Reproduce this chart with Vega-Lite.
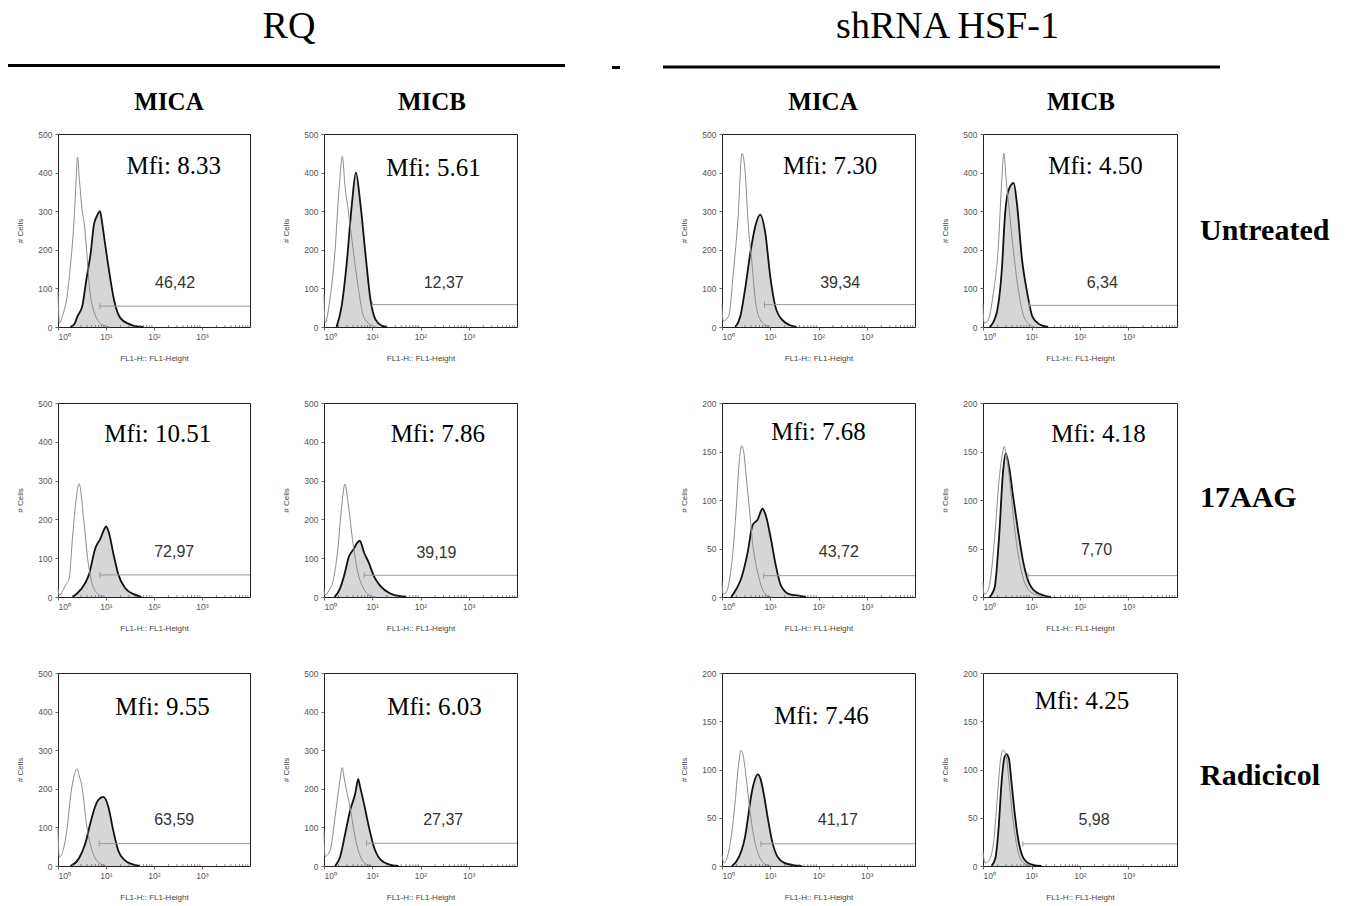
{
"$schema":"https://vega.github.io/schema/vega-lite/v6.json",
"background":"white",
"padding":{"left":6,"top":0,"right":0,"bottom":0},
"columns":9,
"spacing":{"row":76,"column":0},
"bounds":"flush",
"align":"each",
"datasets":{
"minor":[{"v":2},{"v":3},{"v":4},{"v":5},{"v":6},{"v":7},{"v":8},{"v":9},{"v":20},{"v":30},{"v":40},{"v":50},{"v":60},{"v":70},{"v":80},{"v":90},{"v":200},{"v":300},{"v":400},{"v":500},{"v":600},{"v":700},{"v":800},{"v":900},{"v":2000},{"v":3000},{"v":4000},{"v":5000},{"v":6000},{"v":7000},{"v":8000},{"v":9000}],
"hist":[
{"p":1,"s":"c","x":1,"n":90},{"p":1,"s":"c","x":1.07,"n":10},{"p":1,"s":"c","x":1.25,"n":30},{"p":1,"s":"c","x":1.58,"n":88},{"p":1,"s":"c","x":1.85,"n":170},{"p":1,"s":"c","x":2.1,"n":252},{"p":1,"s":"c","x":2.35,"n":364},{"p":1,"s":"c","x":2.55,"n":440},{"p":1,"s":"c","x":2.8,"n":380},{"p":1,"s":"c","x":3.2,"n":300},{"p":1,"s":"c","x":3.5,"n":270},{"p":1,"s":"c","x":4,"n":190},{"p":1,"s":"c","x":4.5,"n":105},{"p":1,"s":"c","x":5.2,"n":55},{"p":1,"s":"c","x":6.1,"n":28},{"p":1,"s":"c","x":7.5,"n":10},{"p":1,"s":"c","x":9,"n":4},{"p":1,"s":"c","x":12,"n":0},
{"p":1,"s":"s","x":1.8,"n":0},{"p":1,"s":"s","x":2.2,"n":8},{"p":1,"s":"s","x":2.55,"n":28},{"p":1,"s":"s","x":3.2,"n":54},{"p":1,"s":"s","x":3.9,"n":123},{"p":1,"s":"s","x":4.8,"n":192},{"p":1,"s":"s","x":5.6,"n":265},{"p":1,"s":"s","x":6.5,"n":288},{"p":1,"s":"s","x":7.5,"n":300},{"p":1,"s":"s","x":8.3,"n":270},{"p":1,"s":"s","x":9.1,"n":235},{"p":1,"s":"s","x":11.5,"n":148},{"p":1,"s":"s","x":14.7,"n":70},{"p":1,"s":"s","x":20,"n":23},{"p":1,"s":"s","x":30,"n":8},{"p":1,"s":"s","x":41,"n":2},{"p":1,"s":"s","x":60,"n":0},
{"p":2,"s":"c","x":1,"n":85},{"p":2,"s":"c","x":1.05,"n":10},{"p":2,"s":"c","x":1.32,"n":70},{"p":2,"s":"c","x":1.68,"n":192},{"p":2,"s":"c","x":2.07,"n":364},{"p":2,"s":"c","x":2.4,"n":442},{"p":2,"s":"c","x":2.73,"n":364},{"p":2,"s":"c","x":3.2,"n":300},{"p":2,"s":"c","x":4.1,"n":192},{"p":2,"s":"c","x":5.2,"n":97},{"p":2,"s":"c","x":6.6,"n":28},{"p":2,"s":"c","x":9.2,"n":6},{"p":2,"s":"c","x":12,"n":0},
{"p":2,"s":"s","x":1.82,"n":0},{"p":2,"s":"s","x":2.32,"n":54},{"p":2,"s":"s","x":2.96,"n":166},{"p":2,"s":"s","x":3.8,"n":321},{"p":2,"s":"s","x":4.58,"n":400},{"p":2,"s":"s","x":5.66,"n":321},{"p":2,"s":"s","x":7.2,"n":192},{"p":2,"s":"s","x":9.2,"n":70},{"p":2,"s":"s","x":11.7,"n":19},{"p":2,"s":"s","x":16,"n":3},{"p":2,"s":"s","x":20,"n":0},
{"p":3,"s":"c","x":1,"n":58},{"p":3,"s":"c","x":1.05,"n":15},{"p":3,"s":"c","x":1.37,"n":28},{"p":3,"s":"c","x":1.74,"n":148},{"p":3,"s":"c","x":2.14,"n":278},{"p":3,"s":"c","x":2.6,"n":450},{"p":3,"s":"c","x":2.95,"n":416},{"p":3,"s":"c","x":3.56,"n":252},{"p":3,"s":"c","x":4.17,"n":166},{"p":3,"s":"c","x":4.9,"n":70},{"p":3,"s":"c","x":6.2,"n":19},{"p":3,"s":"c","x":8.5,"n":3},{"p":3,"s":"c","x":10,"n":0},
{"p":3,"s":"s","x":1.89,"n":0},{"p":3,"s":"s","x":2.4,"n":28},{"p":3,"s":"s","x":3.0,"n":97},{"p":3,"s":"s","x":3.86,"n":192},{"p":3,"s":"s","x":4.9,"n":261},{"p":3,"s":"s","x":6.2,"n":291},{"p":3,"s":"s","x":7.9,"n":243},{"p":3,"s":"s","x":10,"n":131},{"p":3,"s":"s","x":12.7,"n":54},{"p":3,"s":"s","x":17.5,"n":19},{"p":3,"s":"s","x":28,"n":3},{"p":3,"s":"s","x":35,"n":0},
{"p":4,"s":"c","x":1,"n":60},{"p":4,"s":"c","x":1.05,"n":10},{"p":4,"s":"c","x":1.27,"n":17},{"p":4,"s":"c","x":1.63,"n":87},{"p":4,"s":"c","x":2.07,"n":208},{"p":4,"s":"c","x":2.44,"n":381},{"p":4,"s":"c","x":2.7,"n":450},{"p":4,"s":"c","x":3.0,"n":381},{"p":4,"s":"c","x":3.37,"n":320},{"p":4,"s":"c","x":4.3,"n":190},{"p":4,"s":"c","x":5.5,"n":87},{"p":4,"s":"c","x":7,"n":26},{"p":4,"s":"c","x":9.7,"n":4},{"p":4,"s":"c","x":12,"n":0},
{"p":4,"s":"s","x":1.38,"n":0},{"p":4,"s":"s","x":1.9,"n":35},{"p":4,"s":"s","x":2.44,"n":147},{"p":4,"s":"s","x":2.86,"n":295},{"p":4,"s":"s","x":3.37,"n":355},{"p":4,"s":"s","x":4.3,"n":373},{"p":4,"s":"s","x":5.0,"n":320},{"p":4,"s":"s","x":6.4,"n":173},{"p":4,"s":"s","x":8.2,"n":87},{"p":4,"s":"s","x":10.5,"n":26},{"p":4,"s":"s","x":14.5,"n":7},{"p":4,"s":"s","x":22,"n":0},
{"p":5,"s":"c","x":1,"n":22},{"p":5,"s":"c","x":1.05,"n":5},{"p":5,"s":"c","x":1.46,"n":32},{"p":5,"s":"c","x":1.71,"n":49},{"p":5,"s":"c","x":2.0,"n":150},{"p":5,"s":"c","x":2.34,"n":243},{"p":5,"s":"c","x":2.75,"n":292},{"p":5,"s":"c","x":3.47,"n":194},{"p":5,"s":"c","x":4.06,"n":109},{"p":5,"s":"c","x":5.2,"n":32},{"p":5,"s":"c","x":7.1,"n":6},{"p":5,"s":"c","x":9,"n":0},
{"p":5,"s":"s","x":2,"n":0},{"p":5,"s":"s","x":2.97,"n":19},{"p":5,"s":"s","x":4.4,"n":57},{"p":5,"s":"s","x":6.0,"n":126},{"p":5,"s":"s","x":7.6,"n":150},{"p":5,"s":"s","x":9.4,"n":177},{"p":5,"s":"s","x":10,"n":182},{"p":5,"s":"s","x":11.3,"n":169},{"p":5,"s":"s","x":14.4,"n":109},{"p":5,"s":"s","x":18.2,"n":57},{"p":5,"s":"s","x":25,"n":23},{"p":5,"s":"s","x":40,"n":6},{"p":5,"s":"s","x":55,"n":0},
{"p":6,"s":"c","x":1,"n":20},{"p":6,"s":"c","x":1.05,"n":5},{"p":6,"s":"c","x":1.3,"n":19},{"p":6,"s":"c","x":1.5,"n":36},{"p":6,"s":"c","x":1.93,"n":122},{"p":6,"s":"c","x":2.33,"n":235},{"p":6,"s":"c","x":2.72,"n":291},{"p":6,"s":"c","x":3.09,"n":252},{"p":6,"s":"c","x":3.9,"n":148},{"p":6,"s":"c","x":4.9,"n":70},{"p":6,"s":"c","x":6.8,"n":19},{"p":6,"s":"c","x":9.3,"n":3},{"p":6,"s":"c","x":12,"n":0},
{"p":6,"s":"s","x":1.65,"n":0},{"p":6,"s":"s","x":2.1,"n":19},{"p":6,"s":"s","x":2.6,"n":54},{"p":6,"s":"s","x":3.3,"n":105},{"p":6,"s":"s","x":4.1,"n":123},{"p":6,"s":"s","x":4.9,"n":140},{"p":6,"s":"s","x":5.5,"n":145},{"p":6,"s":"s","x":6.8,"n":114},{"p":6,"s":"s","x":8.5,"n":88},{"p":6,"s":"s","x":10.8,"n":54},{"p":6,"s":"s","x":14.8,"n":28},{"p":6,"s":"s","x":23.6,"n":9},{"p":6,"s":"s","x":38,"n":2},{"p":6,"s":"s","x":50,"n":0},
{"p":7,"s":"c","x":1,"n":15},{"p":7,"s":"c","x":1.05,"n":3},{"p":7,"s":"c","x":1.23,"n":5},{"p":7,"s":"c","x":1.44,"n":19},{"p":7,"s":"c","x":1.68,"n":46},{"p":7,"s":"c","x":1.97,"n":91},{"p":7,"s":"c","x":2.3,"n":142},{"p":7,"s":"c","x":2.57,"n":156},{"p":7,"s":"c","x":2.83,"n":149},{"p":7,"s":"c","x":3.16,"n":125},{"p":7,"s":"c","x":3.7,"n":91},{"p":7,"s":"c","x":4.3,"n":56},{"p":7,"s":"c","x":5.5,"n":25},{"p":7,"s":"c","x":6.9,"n":8},{"p":7,"s":"c","x":8.8,"n":1},{"p":7,"s":"c","x":11,"n":0},
{"p":7,"s":"s","x":1.55,"n":0},{"p":7,"s":"s","x":1.97,"n":8},{"p":7,"s":"s","x":2.5,"n":19},{"p":7,"s":"s","x":3.4,"n":46},{"p":7,"s":"s","x":4.3,"n":74},{"p":7,"s":"s","x":5.5,"n":80},{"p":7,"s":"s","x":6.9,"n":91},{"p":7,"s":"s","x":8.1,"n":84},{"p":7,"s":"s","x":10.3,"n":60},{"p":7,"s":"s","x":13.1,"n":32},{"p":7,"s":"s","x":16.6,"n":12},{"p":7,"s":"s","x":24.6,"n":3},{"p":7,"s":"s","x":43,"n":1},{"p":7,"s":"s","x":55,"n":0},
{"p":8,"s":"c","x":1,"n":15},{"p":8,"s":"c","x":1.05,"n":3},{"p":8,"s":"c","x":1.17,"n":4},{"p":8,"s":"c","x":1.37,"n":13},{"p":8,"s":"c","x":1.74,"n":61},{"p":8,"s":"c","x":2.14,"n":120},{"p":8,"s":"c","x":2.6,"n":151},{"p":8,"s":"c","x":2.75,"n":155},{"p":8,"s":"c","x":2.94,"n":150},{"p":8,"s":"c","x":3.56,"n":120},{"p":8,"s":"c","x":4.3,"n":79},{"p":8,"s":"c","x":5.3,"n":44},{"p":8,"s":"c","x":6.7,"n":20},{"p":8,"s":"c","x":9.2,"n":6},{"p":8,"s":"c","x":15,"n":1},{"p":8,"s":"c","x":18,"n":0},
{"p":8,"s":"s","x":1.37,"n":0},{"p":8,"s":"s","x":1.74,"n":10},{"p":8,"s":"s","x":2.14,"n":61},{"p":8,"s":"s","x":2.6,"n":130},{"p":8,"s":"s","x":2.94,"n":148},{"p":8,"s":"s","x":3.45,"n":134},{"p":8,"s":"s","x":4.2,"n":103},{"p":8,"s":"s","x":5.3,"n":68},{"p":8,"s":"s","x":6.7,"n":37},{"p":8,"s":"s","x":8.5,"n":17},{"p":8,"s":"s","x":11.7,"n":6},{"p":8,"s":"s","x":20,"n":1},{"p":8,"s":"s","x":25,"n":0},
{"p":9,"s":"c","x":1,"n":99},{"p":9,"s":"c","x":1.06,"n":23},{"p":9,"s":"c","x":1.33,"n":49},{"p":9,"s":"c","x":1.56,"n":101},{"p":9,"s":"c","x":1.82,"n":179},{"p":9,"s":"c","x":2.13,"n":230},{"p":9,"s":"c","x":2.5,"n":252},{"p":9,"s":"c","x":2.75,"n":235},{"p":9,"s":"c","x":3.16,"n":205},{"p":9,"s":"c","x":4.0,"n":101},{"p":9,"s":"c","x":5.1,"n":41},{"p":9,"s":"c","x":6.9,"n":10},{"p":9,"s":"c","x":10,"n":0},
{"p":9,"s":"s","x":1.82,"n":0},{"p":9,"s":"s","x":2.7,"n":19},{"p":9,"s":"s","x":3.7,"n":58},{"p":9,"s":"s","x":4.7,"n":110},{"p":9,"s":"s","x":5.9,"n":153},{"p":9,"s":"s","x":6.9,"n":171},{"p":9,"s":"s","x":8.8,"n":179},{"p":9,"s":"s","x":11.2,"n":153},{"p":9,"s":"s","x":14.1,"n":93},{"p":9,"s":"s","x":17.9,"n":41},{"p":9,"s":"s","x":24.5,"n":15},{"p":9,"s":"s","x":36,"n":4},{"p":9,"s":"s","x":50,"n":0},
{"p":10,"s":"c","x":1,"n":90},{"p":10,"s":"c","x":1.05,"n":25},{"p":10,"s":"c","x":1.34,"n":41},{"p":10,"s":"c","x":1.7,"n":128},{"p":10,"s":"c","x":2.1,"n":215},{"p":10,"s":"c","x":2.4,"n":255},{"p":10,"s":"c","x":2.6,"n":230},{"p":10,"s":"c","x":3.0,"n":190},{"p":10,"s":"c","x":3.5,"n":150},{"p":10,"s":"c","x":4.2,"n":90},{"p":10,"s":"c","x":5,"n":45},{"p":10,"s":"c","x":6.2,"n":15},{"p":10,"s":"c","x":8,"n":3},{"p":10,"s":"c","x":10,"n":0},
{"p":10,"s":"s","x":1.7,"n":0},{"p":10,"s":"s","x":2.16,"n":24},{"p":10,"s":"s","x":2.76,"n":85},{"p":10,"s":"s","x":3.5,"n":145},{"p":10,"s":"s","x":4.47,"n":189},{"p":10,"s":"s","x":5.1,"n":225},{"p":10,"s":"s","x":5.6,"n":205},{"p":10,"s":"s","x":6.7,"n":163},{"p":10,"s":"s","x":8.5,"n":102},{"p":10,"s":"s","x":10.8,"n":50},{"p":10,"s":"s","x":15,"n":16},{"p":10,"s":"s","x":24,"n":3},{"p":10,"s":"s","x":35,"n":0},
{"p":11,"s":"c","x":1,"n":12},{"p":11,"s":"c","x":1.1,"n":3},{"p":11,"s":"c","x":1.3,"n":10},{"p":11,"s":"c","x":1.6,"n":35},{"p":11,"s":"c","x":1.9,"n":70},{"p":11,"s":"c","x":2.2,"n":105},{"p":11,"s":"c","x":2.5,"n":120},{"p":11,"s":"c","x":2.8,"n":112},{"p":11,"s":"c","x":3.2,"n":90},{"p":11,"s":"c","x":3.7,"n":62},{"p":11,"s":"c","x":4.3,"n":38},{"p":11,"s":"c","x":5.2,"n":18},{"p":11,"s":"c","x":6.5,"n":6},{"p":11,"s":"c","x":8.5,"n":1},{"p":11,"s":"c","x":11,"n":0},
{"p":11,"s":"s","x":1.6,"n":0},{"p":11,"s":"s","x":2,"n":5},{"p":11,"s":"s","x":2.5,"n":15},{"p":11,"s":"s","x":3,"n":30},{"p":11,"s":"s","x":3.5,"n":52},{"p":11,"s":"s","x":4,"n":72},{"p":11,"s":"s","x":4.7,"n":88},{"p":11,"s":"s","x":5.5,"n":95},{"p":11,"s":"s","x":6.3,"n":90},{"p":11,"s":"s","x":7.5,"n":72},{"p":11,"s":"s","x":9,"n":48},{"p":11,"s":"s","x":11,"n":25},{"p":11,"s":"s","x":14,"n":10},{"p":11,"s":"s","x":20,"n":3},{"p":11,"s":"s","x":30,"n":1},{"p":11,"s":"s","x":45,"n":0},
{"p":12,"s":"c","x":1,"n":15},{"p":12,"s":"c","x":1.1,"n":3},{"p":12,"s":"c","x":1.4,"n":8},{"p":12,"s":"c","x":1.7,"n":30},{"p":12,"s":"c","x":2.0,"n":75},{"p":12,"s":"c","x":2.3,"n":110},{"p":12,"s":"c","x":2.6,"n":120},{"p":12,"s":"c","x":3.0,"n":115},{"p":12,"s":"c","x":3.4,"n":90},{"p":12,"s":"c","x":4.0,"n":55},{"p":12,"s":"c","x":4.8,"n":25},{"p":12,"s":"c","x":5.8,"n":8},{"p":12,"s":"c","x":7.5,"n":2},{"p":12,"s":"c","x":10,"n":0},
{"p":12,"s":"s","x":1.5,"n":0},{"p":12,"s":"s","x":1.8,"n":8},{"p":12,"s":"s","x":2.1,"n":40},{"p":12,"s":"s","x":2.4,"n":85},{"p":12,"s":"s","x":2.7,"n":110},{"p":12,"s":"s","x":3.0,"n":116},{"p":12,"s":"s","x":3.4,"n":112},{"p":12,"s":"s","x":3.9,"n":85},{"p":12,"s":"s","x":4.5,"n":55},{"p":12,"s":"s","x":5.3,"n":28},{"p":12,"s":"s","x":6.3,"n":12},{"p":12,"s":"s","x":8,"n":4},{"p":12,"s":"s","x":11,"n":1},{"p":12,"s":"s","x":16,"n":0}
],
"ann":[
{"p":1,"mfi":"Mfi: 8.33","pct":"46,42","gx":7.5,"gy":54},
{"p":2,"mfi":"Mfi: 5.61","pct":"12,37","gx":10,"gy":58},
{"p":3,"mfi":"Mfi: 7.30","pct":"39,34","gx":7.6,"gy":58},
{"p":4,"mfi":"Mfi: 4.50","pct":"6,34","gx":8.9,"gy":56},
{"p":5,"mfi":"Mfi: 10.51","pct":"72,97","gx":7.4,"gy":57},
{"p":6,"mfi":"Mfi: 7.86","pct":"39,19","gx":6.8,"gy":56},
{"p":7,"mfi":"Mfi: 7.68","pct":"43,72","gx":7.3,"gy":22},
{"p":8,"mfi":"Mfi: 4.18","pct":"7,70","gx":8.5,"gy":22},
{"p":9,"mfi":"Mfi: 9.55","pct":"63,59","gx":7.2,"gy":58},
{"p":10,"mfi":"Mfi: 6.03","pct":"27,37","gx":7.6,"gy":59},
{"p":11,"mfi":"Mfi: 7.46","pct":"41,17","gx":6.4,"gy":23},
{"p":12,"mfi":"Mfi: 4.25","pct":"5,98","gx":6.6,"gy":23}
]
},
"concat":[
{"width":192,"height":58,"view":{"stroke":null},"data":{"values":[{}]},"layer":[
 {"mark":{"type":"text","text":"RQ","font":"Liberation Serif","fontSize":38,"baseline":"alphabetic","align":"center"},"encoding":{"x":{"datum":289,"type":"quantitative","scale":{"domain":[58,250],"nice":false,"zero":false},"axis":null},"y":{"datum":38,"type":"quantitative","scale":{"domain":[58,0],"nice":false,"zero":false},"axis":null}}},
 {"mark":{"type":"rule","color":"black","strokeWidth":3},"encoding":{"x":{"datum":8,"type":"quantitative","axis":null},"x2":{"datum":565},"y":{"datum":65.5,"type":"quantitative","axis":null}}},
 {"mark":{"type":"text","text":"MICA","font":"Liberation Serif","fontWeight":"bold","fontSize":25,"baseline":"alphabetic","align":"center"},"encoding":{"x":{"datum":169,"type":"quantitative","axis":null},"y":{"datum":110,"type":"quantitative","axis":null}}}
]},
{"width":74,"height":58,"view":{"stroke":null},"data":{"values":[]},"mark":"point","encoding":{}},
{"width":193,"height":58,"view":{"stroke":null},"data":{"values":[{}]},"mark":{"type":"text","text":"MICB","font":"Liberation Serif","fontWeight":"bold","fontSize":25,"baseline":"alphabetic","align":"center"},"encoding":{"x":{"datum":432,"type":"quantitative","scale":{"domain":[324,517],"nice":false,"zero":false},"axis":null},"y":{"datum":110,"type":"quantitative","scale":{"domain":[58,0],"nice":false,"zero":false},"axis":null}}},
{"width":205,"height":58,"view":{"stroke":null},"data":{"values":[{}]},"mark":{"type":"rule","color":"black","strokeWidth":3},"encoding":{"x":{"datum":612,"type":"quantitative","scale":{"domain":[517,722],"nice":false,"zero":false},"axis":null},"x2":{"datum":620},"y":{"datum":67.5,"type":"quantitative","scale":{"domain":[58,0],"nice":false,"zero":false},"axis":null}}},
{"width":193,"height":58,"view":{"stroke":null},"data":{"values":[{}]},"layer":[
 {"mark":{"type":"text","text":"shRNA HSF-1","font":"Liberation Serif","fontSize":38,"baseline":"alphabetic","align":"center"},"encoding":{"x":{"datum":947.5,"type":"quantitative","scale":{"domain":[722,915],"nice":false,"zero":false},"axis":null},"y":{"datum":38,"type":"quantitative","scale":{"domain":[58,0],"nice":false,"zero":false},"axis":null}}},
 {"mark":{"type":"rule","color":"black","strokeWidth":3},"encoding":{"x":{"datum":663,"type":"quantitative","axis":null},"x2":{"datum":1220},"y":{"datum":67,"type":"quantitative","axis":null}}},
 {"mark":{"type":"text","text":"MICA","font":"Liberation Serif","fontWeight":"bold","fontSize":25,"baseline":"alphabetic","align":"center"},"encoding":{"x":{"datum":823,"type":"quantitative","axis":null},"y":{"datum":110,"type":"quantitative","axis":null}}}
]},
{"width":68,"height":58,"view":{"stroke":null},"data":{"values":[]},"mark":"point","encoding":{}},
{"width":194,"height":58,"view":{"stroke":null},"data":{"values":[{}]},"mark":{"type":"text","text":"MICB","font":"Liberation Serif","fontWeight":"bold","fontSize":25,"baseline":"alphabetic","align":"center"},"encoding":{"x":{"datum":1081,"type":"quantitative","scale":{"domain":[983,1177],"nice":false,"zero":false},"axis":null},"y":{"datum":110,"type":"quantitative","scale":{"domain":[58,0],"nice":false,"zero":false},"axis":null}}},
{"width":23,"height":58,"view":{"stroke":null},"data":{"values":[]},"mark":"point","encoding":{}},
{"width":145,"height":58,"view":{"stroke":null},"data":{"values":[]},"mark":"point","encoding":{}},

{"width":192,"height":193,"data":{"name":"hist"},"transform":[{"filter":"datum.p==1"}],"layer":[
 {"transform":[{"filter":"datum.s=='s'"}],"mark":{"type":"area","color":"#c4c4c4","interpolate":"monotone","line":{"color":"#111","strokeWidth":1.8}},"encoding":{"x":{"field":"x","type":"quantitative","scale":{"type":"log","domain":[1,10000]},"axis":{"values":[1,10,100,1000],"labelExpr":"datum.value == 1 ? '10⁰' : datum.value == 10 ? '10¹' : datum.value == 100 ? '10²' : '10³'","title":"FL1-H:: FL1-Height"}},"y":{"field":"n","type":"quantitative","scale":{"domain":[0,500]},"axis":{"values":[0,100,200,300,400,500],"labelOverlap":false,"tickCount":6,"title":"# Cells"}}}},
 {"transform":[{"filter":"datum.s=='c'"}],"mark":{"type":"line","color":"#8c8c8c","strokeWidth":1,"interpolate":"monotone"},"encoding":{"x":{"field":"x","type":"quantitative"},"y":{"field":"n","type":"quantitative"}}},
 {"data":{"name":"minor"},"mark":{"type":"point","shape":"M0,0L0,-1","size":14,"stroke":"#666","strokeWidth":0.8,"filled":false,"opacity":1},"encoding":{"x":{"field":"v","type":"quantitative"},"y":{"datum":0}}},
 {"data":{"name":"ann"},"transform":[{"filter":"datum.p==1"}],"mark":{"type":"rule","color":"#999","strokeWidth":1},"encoding":{"x":{"field":"gx","type":"quantitative"},"x2":{"datum":10000},"y":{"field":"gy","type":"quantitative"}}},
 {"data":{"name":"ann"},"transform":[{"filter":"datum.p==1"}],"mark":{"type":"point","shape":"M0,-1L0,1","size":36,"stroke":"#999","strokeWidth":1,"filled":false,"opacity":1},"encoding":{"x":{"field":"gx","type":"quantitative"},"y":{"field":"gy","type":"quantitative"}}},
 {"data":{"name":"ann"},"transform":[{"filter":"datum.p==1"}],"mark":{"type":"text","font":"Liberation Serif","fontSize":25,"color":"black"},"encoding":{"text":{"field":"mfi"},"x":{"datum":257},"y":{"datum":416}}},
 {"data":{"name":"ann"},"transform":[{"filter":"datum.p==1"}],"mark":{"type":"text","font":"Liberation Sans","fontSize":16,"color":"#333"},"encoding":{"text":{"field":"pct"},"x":{"datum":275},"y":{"datum":114}}}
]},
{"width":74,"height":20,"view":{"stroke":null},"data":{"values":[]},"mark":"point","encoding":{}},
{"width":193,"height":193,"data":{"name":"hist"},"transform":[{"filter":"datum.p==2"}],"layer":[
 {"transform":[{"filter":"datum.s=='s'"}],"mark":{"type":"area","color":"#c4c4c4","interpolate":"monotone","line":{"color":"#111","strokeWidth":1.8}},"encoding":{"x":{"field":"x","type":"quantitative","scale":{"type":"log","domain":[1,10000]},"axis":{"values":[1,10,100,1000],"labelExpr":"datum.value == 1 ? '10⁰' : datum.value == 10 ? '10¹' : datum.value == 100 ? '10²' : '10³'","title":"FL1-H:: FL1-Height"}},"y":{"field":"n","type":"quantitative","scale":{"domain":[0,500]},"axis":{"values":[0,100,200,300,400,500],"labelOverlap":false,"tickCount":6,"title":"# Cells"}}}},
 {"transform":[{"filter":"datum.s=='c'"}],"mark":{"type":"line","color":"#8c8c8c","strokeWidth":1,"interpolate":"monotone"},"encoding":{"x":{"field":"x","type":"quantitative"},"y":{"field":"n","type":"quantitative"}}},
 {"data":{"name":"minor"},"mark":{"type":"point","shape":"M0,0L0,-1","size":14,"stroke":"#666","strokeWidth":0.8,"filled":false,"opacity":1},"encoding":{"x":{"field":"v","type":"quantitative"},"y":{"datum":0}}},
 {"data":{"name":"ann"},"transform":[{"filter":"datum.p==2"}],"mark":{"type":"rule","color":"#999","strokeWidth":1},"encoding":{"x":{"field":"gx","type":"quantitative"},"x2":{"datum":10000},"y":{"field":"gy","type":"quantitative"}}},
 {"data":{"name":"ann"},"transform":[{"filter":"datum.p==2"}],"mark":{"type":"point","shape":"M0,-1L0,1","size":36,"stroke":"#999","strokeWidth":1,"filled":false,"opacity":1},"encoding":{"x":{"field":"gx","type":"quantitative"},"y":{"field":"gy","type":"quantitative"}}},
 {"data":{"name":"ann"},"transform":[{"filter":"datum.p==2"}],"mark":{"type":"text","font":"Liberation Serif","fontSize":25,"color":"black"},"encoding":{"text":{"field":"mfi"},"x":{"datum":186},"y":{"datum":412}}},
 {"data":{"name":"ann"},"transform":[{"filter":"datum.p==2"}],"mark":{"type":"text","font":"Liberation Sans","fontSize":16,"color":"#333"},"encoding":{"text":{"field":"pct"},"x":{"datum":302},"y":{"datum":113}}}
]},
{"width":205,"height":20,"view":{"stroke":null},"data":{"values":[]},"mark":"point","encoding":{}},
{"width":193,"height":193,"data":{"name":"hist"},"transform":[{"filter":"datum.p==3"}],"layer":[
 {"transform":[{"filter":"datum.s=='s'"}],"mark":{"type":"area","color":"#c4c4c4","interpolate":"monotone","line":{"color":"#111","strokeWidth":1.8}},"encoding":{"x":{"field":"x","type":"quantitative","scale":{"type":"log","domain":[1,10000]},"axis":{"values":[1,10,100,1000],"labelExpr":"datum.value == 1 ? '10⁰' : datum.value == 10 ? '10¹' : datum.value == 100 ? '10²' : '10³'","title":"FL1-H:: FL1-Height"}},"y":{"field":"n","type":"quantitative","scale":{"domain":[0,500]},"axis":{"values":[0,100,200,300,400,500],"labelOverlap":false,"tickCount":6,"title":"# Cells"}}}},
 {"transform":[{"filter":"datum.s=='c'"}],"mark":{"type":"line","color":"#8c8c8c","strokeWidth":1,"interpolate":"monotone"},"encoding":{"x":{"field":"x","type":"quantitative"},"y":{"field":"n","type":"quantitative"}}},
 {"data":{"name":"minor"},"mark":{"type":"point","shape":"M0,0L0,-1","size":14,"stroke":"#666","strokeWidth":0.8,"filled":false,"opacity":1},"encoding":{"x":{"field":"v","type":"quantitative"},"y":{"datum":0}}},
 {"data":{"name":"ann"},"transform":[{"filter":"datum.p==3"}],"mark":{"type":"rule","color":"#999","strokeWidth":1},"encoding":{"x":{"field":"gx","type":"quantitative"},"x2":{"datum":10000},"y":{"field":"gy","type":"quantitative"}}},
 {"data":{"name":"ann"},"transform":[{"filter":"datum.p==3"}],"mark":{"type":"point","shape":"M0,-1L0,1","size":36,"stroke":"#999","strokeWidth":1,"filled":false,"opacity":1},"encoding":{"x":{"field":"gx","type":"quantitative"},"y":{"field":"gy","type":"quantitative"}}},
 {"data":{"name":"ann"},"transform":[{"filter":"datum.p==3"}],"mark":{"type":"text","font":"Liberation Serif","fontSize":25,"color":"black"},"encoding":{"text":{"field":"mfi"},"x":{"datum":174},"y":{"datum":416}}},
 {"data":{"name":"ann"},"transform":[{"filter":"datum.p==3"}],"mark":{"type":"text","font":"Liberation Sans","fontSize":16,"color":"#333"},"encoding":{"text":{"field":"pct"},"x":{"datum":282},"y":{"datum":114}}}
]},
{"width":68,"height":20,"view":{"stroke":null},"data":{"values":[]},"mark":"point","encoding":{}},
{"width":194,"height":193,"data":{"name":"hist"},"transform":[{"filter":"datum.p==4"}],"layer":[
 {"transform":[{"filter":"datum.s=='s'"}],"mark":{"type":"area","color":"#c4c4c4","interpolate":"monotone","line":{"color":"#111","strokeWidth":1.8}},"encoding":{"x":{"field":"x","type":"quantitative","scale":{"type":"log","domain":[1,10000]},"axis":{"values":[1,10,100,1000],"labelExpr":"datum.value == 1 ? '10⁰' : datum.value == 10 ? '10¹' : datum.value == 100 ? '10²' : '10³'","title":"FL1-H:: FL1-Height"}},"y":{"field":"n","type":"quantitative","scale":{"domain":[0,500]},"axis":{"values":[0,100,200,300,400,500],"labelOverlap":false,"tickCount":6,"title":"# Cells"}}}},
 {"transform":[{"filter":"datum.s=='c'"}],"mark":{"type":"line","color":"#8c8c8c","strokeWidth":1,"interpolate":"monotone"},"encoding":{"x":{"field":"x","type":"quantitative"},"y":{"field":"n","type":"quantitative"}}},
 {"data":{"name":"minor"},"mark":{"type":"point","shape":"M0,0L0,-1","size":14,"stroke":"#666","strokeWidth":0.8,"filled":false,"opacity":1},"encoding":{"x":{"field":"v","type":"quantitative"},"y":{"datum":0}}},
 {"data":{"name":"ann"},"transform":[{"filter":"datum.p==4"}],"mark":{"type":"rule","color":"#999","strokeWidth":1},"encoding":{"x":{"field":"gx","type":"quantitative"},"x2":{"datum":10000},"y":{"field":"gy","type":"quantitative"}}},
 {"data":{"name":"ann"},"transform":[{"filter":"datum.p==4"}],"mark":{"type":"point","shape":"M0,-1L0,1","size":36,"stroke":"#999","strokeWidth":1,"filled":false,"opacity":1},"encoding":{"x":{"field":"gx","type":"quantitative"},"y":{"field":"gy","type":"quantitative"}}},
 {"data":{"name":"ann"},"transform":[{"filter":"datum.p==4"}],"mark":{"type":"text","font":"Liberation Serif","fontSize":25,"color":"black"},"encoding":{"text":{"field":"mfi"},"x":{"datum":209},"y":{"datum":416}}},
 {"data":{"name":"ann"},"transform":[{"filter":"datum.p==4"}],"mark":{"type":"text","font":"Liberation Sans","fontSize":16,"color":"#333"},"encoding":{"text":{"field":"pct"},"x":{"datum":288},"y":{"datum":113}}}
]},
{"width":23,"height":20,"view":{"stroke":null},"data":{"values":[]},"mark":"point","encoding":{}},
{"width":145,"height":193,"view":{"stroke":null},"data":{"values":[{}]},"mark":{"type":"text","text":"Untreated","font":"Liberation Serif","fontWeight":"bold","fontSize":30,"align":"left","baseline":"alphabetic"},"encoding":{"x":{"datum":1200,"type":"quantitative","scale":{"domain":[1200,1345],"nice":false,"zero":false},"axis":null},"y":{"datum":240,"type":"quantitative","scale":{"domain":[327,134],"nice":false,"zero":false},"axis":null}}},

{"width":192,"height":194,"data":{"name":"hist"},"transform":[{"filter":"datum.p==5"}],"layer":[
 {"transform":[{"filter":"datum.s=='s'"}],"mark":{"type":"area","color":"#c4c4c4","interpolate":"monotone","line":{"color":"#111","strokeWidth":1.8}},"encoding":{"x":{"field":"x","type":"quantitative","scale":{"type":"log","domain":[1,10000]},"axis":{"values":[1,10,100,1000],"labelExpr":"datum.value == 1 ? '10⁰' : datum.value == 10 ? '10¹' : datum.value == 100 ? '10²' : '10³'","title":"FL1-H:: FL1-Height"}},"y":{"field":"n","type":"quantitative","scale":{"domain":[0,500]},"axis":{"values":[0,100,200,300,400,500],"labelOverlap":false,"tickCount":6,"title":"# Cells"}}}},
 {"transform":[{"filter":"datum.s=='c'"}],"mark":{"type":"line","color":"#8c8c8c","strokeWidth":1,"interpolate":"monotone"},"encoding":{"x":{"field":"x","type":"quantitative"},"y":{"field":"n","type":"quantitative"}}},
 {"data":{"name":"minor"},"mark":{"type":"point","shape":"M0,0L0,-1","size":14,"stroke":"#666","strokeWidth":0.8,"filled":false,"opacity":1},"encoding":{"x":{"field":"v","type":"quantitative"},"y":{"datum":0}}},
 {"data":{"name":"ann"},"transform":[{"filter":"datum.p==5"}],"mark":{"type":"rule","color":"#999","strokeWidth":1},"encoding":{"x":{"field":"gx","type":"quantitative"},"x2":{"datum":10000},"y":{"field":"gy","type":"quantitative"}}},
 {"data":{"name":"ann"},"transform":[{"filter":"datum.p==5"}],"mark":{"type":"point","shape":"M0,-1L0,1","size":36,"stroke":"#999","strokeWidth":1,"filled":false,"opacity":1},"encoding":{"x":{"field":"gx","type":"quantitative"},"y":{"field":"gy","type":"quantitative"}}},
 {"data":{"name":"ann"},"transform":[{"filter":"datum.p==5"}],"mark":{"type":"text","font":"Liberation Serif","fontSize":25,"color":"black"},"encoding":{"text":{"field":"mfi"},"x":{"datum":120},"y":{"datum":421}}},
 {"data":{"name":"ann"},"transform":[{"filter":"datum.p==5"}],"mark":{"type":"text","font":"Liberation Sans","fontSize":16,"color":"#333"},"encoding":{"text":{"field":"pct"},"x":{"datum":263},"y":{"datum":117}}}
]},
{"width":74,"height":20,"view":{"stroke":null},"data":{"values":[]},"mark":"point","encoding":{}},
{"width":193,"height":194,"data":{"name":"hist"},"transform":[{"filter":"datum.p==6"}],"layer":[
 {"transform":[{"filter":"datum.s=='s'"}],"mark":{"type":"area","color":"#c4c4c4","interpolate":"monotone","line":{"color":"#111","strokeWidth":1.8}},"encoding":{"x":{"field":"x","type":"quantitative","scale":{"type":"log","domain":[1,10000]},"axis":{"values":[1,10,100,1000],"labelExpr":"datum.value == 1 ? '10⁰' : datum.value == 10 ? '10¹' : datum.value == 100 ? '10²' : '10³'","title":"FL1-H:: FL1-Height"}},"y":{"field":"n","type":"quantitative","scale":{"domain":[0,500]},"axis":{"values":[0,100,200,300,400,500],"labelOverlap":false,"tickCount":6,"title":"# Cells"}}}},
 {"transform":[{"filter":"datum.s=='c'"}],"mark":{"type":"line","color":"#8c8c8c","strokeWidth":1,"interpolate":"monotone"},"encoding":{"x":{"field":"x","type":"quantitative"},"y":{"field":"n","type":"quantitative"}}},
 {"data":{"name":"minor"},"mark":{"type":"point","shape":"M0,0L0,-1","size":14,"stroke":"#666","strokeWidth":0.8,"filled":false,"opacity":1},"encoding":{"x":{"field":"v","type":"quantitative"},"y":{"datum":0}}},
 {"data":{"name":"ann"},"transform":[{"filter":"datum.p==6"}],"mark":{"type":"rule","color":"#999","strokeWidth":1},"encoding":{"x":{"field":"gx","type":"quantitative"},"x2":{"datum":10000},"y":{"field":"gy","type":"quantitative"}}},
 {"data":{"name":"ann"},"transform":[{"filter":"datum.p==6"}],"mark":{"type":"point","shape":"M0,-1L0,1","size":36,"stroke":"#999","strokeWidth":1,"filled":false,"opacity":1},"encoding":{"x":{"field":"gx","type":"quantitative"},"y":{"field":"gy","type":"quantitative"}}},
 {"data":{"name":"ann"},"transform":[{"filter":"datum.p==6"}],"mark":{"type":"text","font":"Liberation Serif","fontSize":25,"color":"black"},"encoding":{"text":{"field":"mfi"},"x":{"datum":229},"y":{"datum":421}}},
 {"data":{"name":"ann"},"transform":[{"filter":"datum.p==6"}],"mark":{"type":"text","font":"Liberation Sans","fontSize":16,"color":"#333"},"encoding":{"text":{"field":"pct"},"x":{"datum":214},"y":{"datum":114}}}
]},
{"width":205,"height":20,"view":{"stroke":null},"data":{"values":[]},"mark":"point","encoding":{}},
{"width":193,"height":194,"data":{"name":"hist"},"transform":[{"filter":"datum.p==7"}],"layer":[
 {"transform":[{"filter":"datum.s=='s'"}],"mark":{"type":"area","color":"#c4c4c4","interpolate":"monotone","line":{"color":"#111","strokeWidth":1.8}},"encoding":{"x":{"field":"x","type":"quantitative","scale":{"type":"log","domain":[1,10000]},"axis":{"values":[1,10,100,1000],"labelExpr":"datum.value == 1 ? '10⁰' : datum.value == 10 ? '10¹' : datum.value == 100 ? '10²' : '10³'","title":"FL1-H:: FL1-Height"}},"y":{"field":"n","type":"quantitative","scale":{"domain":[0,200]},"axis":{"values":[0,50,100,150,200],"labelOverlap":false,"tickCount":5,"title":"# Cells"}}}},
 {"transform":[{"filter":"datum.s=='c'"}],"mark":{"type":"line","color":"#8c8c8c","strokeWidth":1,"interpolate":"monotone"},"encoding":{"x":{"field":"x","type":"quantitative"},"y":{"field":"n","type":"quantitative"}}},
 {"data":{"name":"minor"},"mark":{"type":"point","shape":"M0,0L0,-1","size":14,"stroke":"#666","strokeWidth":0.8,"filled":false,"opacity":1},"encoding":{"x":{"field":"v","type":"quantitative"},"y":{"datum":0}}},
 {"data":{"name":"ann"},"transform":[{"filter":"datum.p==7"}],"mark":{"type":"rule","color":"#999","strokeWidth":1},"encoding":{"x":{"field":"gx","type":"quantitative"},"x2":{"datum":10000},"y":{"field":"gy","type":"quantitative"}}},
 {"data":{"name":"ann"},"transform":[{"filter":"datum.p==7"}],"mark":{"type":"point","shape":"M0,-1L0,1","size":36,"stroke":"#999","strokeWidth":1,"filled":false,"opacity":1},"encoding":{"x":{"field":"gx","type":"quantitative"},"y":{"field":"gy","type":"quantitative"}}},
 {"data":{"name":"ann"},"transform":[{"filter":"datum.p==7"}],"mark":{"type":"text","font":"Liberation Serif","fontSize":25,"color":"black"},"encoding":{"text":{"field":"mfi"},"x":{"datum":100},"y":{"datum":170}}},
 {"data":{"name":"ann"},"transform":[{"filter":"datum.p==7"}],"mark":{"type":"text","font":"Liberation Sans","fontSize":16,"color":"#333"},"encoding":{"text":{"field":"pct"},"x":{"datum":263},"y":{"datum":46}}}
]},
{"width":68,"height":20,"view":{"stroke":null},"data":{"values":[]},"mark":"point","encoding":{}},
{"width":194,"height":194,"data":{"name":"hist"},"transform":[{"filter":"datum.p==8"}],"layer":[
 {"transform":[{"filter":"datum.s=='s'"}],"mark":{"type":"area","color":"#c4c4c4","interpolate":"monotone","line":{"color":"#111","strokeWidth":1.8}},"encoding":{"x":{"field":"x","type":"quantitative","scale":{"type":"log","domain":[1,10000]},"axis":{"values":[1,10,100,1000],"labelExpr":"datum.value == 1 ? '10⁰' : datum.value == 10 ? '10¹' : datum.value == 100 ? '10²' : '10³'","title":"FL1-H:: FL1-Height"}},"y":{"field":"n","type":"quantitative","scale":{"domain":[0,200]},"axis":{"values":[0,50,100,150,200],"labelOverlap":false,"tickCount":5,"title":"# Cells"}}}},
 {"transform":[{"filter":"datum.s=='c'"}],"mark":{"type":"line","color":"#8c8c8c","strokeWidth":1,"interpolate":"monotone"},"encoding":{"x":{"field":"x","type":"quantitative"},"y":{"field":"n","type":"quantitative"}}},
 {"data":{"name":"minor"},"mark":{"type":"point","shape":"M0,0L0,-1","size":14,"stroke":"#666","strokeWidth":0.8,"filled":false,"opacity":1},"encoding":{"x":{"field":"v","type":"quantitative"},"y":{"datum":0}}},
 {"data":{"name":"ann"},"transform":[{"filter":"datum.p==8"}],"mark":{"type":"rule","color":"#999","strokeWidth":1},"encoding":{"x":{"field":"gx","type":"quantitative"},"x2":{"datum":10000},"y":{"field":"gy","type":"quantitative"}}},
 {"data":{"name":"ann"},"transform":[{"filter":"datum.p==8"}],"mark":{"type":"point","shape":"M0,-1L0,1","size":36,"stroke":"#999","strokeWidth":1,"filled":false,"opacity":1},"encoding":{"x":{"field":"gx","type":"quantitative"},"y":{"field":"gy","type":"quantitative"}}},
 {"data":{"name":"ann"},"transform":[{"filter":"datum.p==8"}],"mark":{"type":"text","font":"Liberation Serif","fontSize":25,"color":"black"},"encoding":{"text":{"field":"mfi"},"x":{"datum":240},"y":{"datum":168}}},
 {"data":{"name":"ann"},"transform":[{"filter":"datum.p==8"}],"mark":{"type":"text","font":"Liberation Sans","fontSize":16,"color":"#333"},"encoding":{"text":{"field":"pct"},"x":{"datum":219},"y":{"datum":48}}}
]},
{"width":23,"height":20,"view":{"stroke":null},"data":{"values":[]},"mark":"point","encoding":{}},
{"width":145,"height":194,"view":{"stroke":null},"data":{"values":[{}]},"mark":{"type":"text","text":"17AAG","font":"Liberation Serif","fontWeight":"bold","fontSize":30,"align":"left","baseline":"alphabetic"},"encoding":{"x":{"datum":1200,"type":"quantitative","scale":{"domain":[1200,1345],"nice":false,"zero":false},"axis":null},"y":{"datum":507,"type":"quantitative","scale":{"domain":[597,403],"nice":false,"zero":false},"axis":null}}},

{"width":192,"height":193,"data":{"name":"hist"},"transform":[{"filter":"datum.p==9"}],"layer":[
 {"transform":[{"filter":"datum.s=='s'"}],"mark":{"type":"area","color":"#c4c4c4","interpolate":"monotone","line":{"color":"#111","strokeWidth":1.8}},"encoding":{"x":{"field":"x","type":"quantitative","scale":{"type":"log","domain":[1,10000]},"axis":{"values":[1,10,100,1000],"labelExpr":"datum.value == 1 ? '10⁰' : datum.value == 10 ? '10¹' : datum.value == 100 ? '10²' : '10³'","title":"FL1-H:: FL1-Height"}},"y":{"field":"n","type":"quantitative","scale":{"domain":[0,500]},"axis":{"values":[0,100,200,300,400,500],"labelOverlap":false,"tickCount":6,"title":"# Cells"}}}},
 {"transform":[{"filter":"datum.s=='c'"}],"mark":{"type":"line","color":"#8c8c8c","strokeWidth":1,"interpolate":"monotone"},"encoding":{"x":{"field":"x","type":"quantitative"},"y":{"field":"n","type":"quantitative"}}},
 {"data":{"name":"minor"},"mark":{"type":"point","shape":"M0,0L0,-1","size":14,"stroke":"#666","strokeWidth":0.8,"filled":false,"opacity":1},"encoding":{"x":{"field":"v","type":"quantitative"},"y":{"datum":0}}},
 {"data":{"name":"ann"},"transform":[{"filter":"datum.p==9"}],"mark":{"type":"rule","color":"#999","strokeWidth":1},"encoding":{"x":{"field":"gx","type":"quantitative"},"x2":{"datum":10000},"y":{"field":"gy","type":"quantitative"}}},
 {"data":{"name":"ann"},"transform":[{"filter":"datum.p==9"}],"mark":{"type":"point","shape":"M0,-1L0,1","size":36,"stroke":"#999","strokeWidth":1,"filled":false,"opacity":1},"encoding":{"x":{"field":"gx","type":"quantitative"},"y":{"field":"gy","type":"quantitative"}}},
 {"data":{"name":"ann"},"transform":[{"filter":"datum.p==9"}],"mark":{"type":"text","font":"Liberation Serif","fontSize":25,"color":"black"},"encoding":{"text":{"field":"mfi"},"x":{"datum":151},"y":{"datum":413}}},
 {"data":{"name":"ann"},"transform":[{"filter":"datum.p==9"}],"mark":{"type":"text","font":"Liberation Sans","fontSize":16,"color":"#333"},"encoding":{"text":{"field":"pct"},"x":{"datum":263},"y":{"datum":119}}}
]},
{"width":74,"height":20,"view":{"stroke":null},"data":{"values":[]},"mark":"point","encoding":{}},
{"width":193,"height":193,"data":{"name":"hist"},"transform":[{"filter":"datum.p==10"}],"layer":[
 {"transform":[{"filter":"datum.s=='s'"}],"mark":{"type":"area","color":"#c4c4c4","interpolate":"monotone","line":{"color":"#111","strokeWidth":1.8}},"encoding":{"x":{"field":"x","type":"quantitative","scale":{"type":"log","domain":[1,10000]},"axis":{"values":[1,10,100,1000],"labelExpr":"datum.value == 1 ? '10⁰' : datum.value == 10 ? '10¹' : datum.value == 100 ? '10²' : '10³'","title":"FL1-H:: FL1-Height"}},"y":{"field":"n","type":"quantitative","scale":{"domain":[0,500]},"axis":{"values":[0,100,200,300,400,500],"labelOverlap":false,"tickCount":6,"title":"# Cells"}}}},
 {"transform":[{"filter":"datum.s=='c'"}],"mark":{"type":"line","color":"#8c8c8c","strokeWidth":1,"interpolate":"monotone"},"encoding":{"x":{"field":"x","type":"quantitative"},"y":{"field":"n","type":"quantitative"}}},
 {"data":{"name":"minor"},"mark":{"type":"point","shape":"M0,0L0,-1","size":14,"stroke":"#666","strokeWidth":0.8,"filled":false,"opacity":1},"encoding":{"x":{"field":"v","type":"quantitative"},"y":{"datum":0}}},
 {"data":{"name":"ann"},"transform":[{"filter":"datum.p==10"}],"mark":{"type":"rule","color":"#999","strokeWidth":1},"encoding":{"x":{"field":"gx","type":"quantitative"},"x2":{"datum":10000},"y":{"field":"gy","type":"quantitative"}}},
 {"data":{"name":"ann"},"transform":[{"filter":"datum.p==10"}],"mark":{"type":"point","shape":"M0,-1L0,1","size":36,"stroke":"#999","strokeWidth":1,"filled":false,"opacity":1},"encoding":{"x":{"field":"gx","type":"quantitative"},"y":{"field":"gy","type":"quantitative"}}},
 {"data":{"name":"ann"},"transform":[{"filter":"datum.p==10"}],"mark":{"type":"text","font":"Liberation Serif","fontSize":25,"color":"black"},"encoding":{"text":{"field":"mfi"},"x":{"datum":195},"y":{"datum":413}}},
 {"data":{"name":"ann"},"transform":[{"filter":"datum.p==10"}],"mark":{"type":"text","font":"Liberation Sans","fontSize":16,"color":"#333"},"encoding":{"text":{"field":"pct"},"x":{"datum":295},"y":{"datum":119}}}
]},
{"width":205,"height":20,"view":{"stroke":null},"data":{"values":[]},"mark":"point","encoding":{}},
{"width":193,"height":193,"data":{"name":"hist"},"transform":[{"filter":"datum.p==11"}],"layer":[
 {"transform":[{"filter":"datum.s=='s'"}],"mark":{"type":"area","color":"#c4c4c4","interpolate":"monotone","line":{"color":"#111","strokeWidth":1.8}},"encoding":{"x":{"field":"x","type":"quantitative","scale":{"type":"log","domain":[1,10000]},"axis":{"values":[1,10,100,1000],"labelExpr":"datum.value == 1 ? '10⁰' : datum.value == 10 ? '10¹' : datum.value == 100 ? '10²' : '10³'","title":"FL1-H:: FL1-Height"}},"y":{"field":"n","type":"quantitative","scale":{"domain":[0,200]},"axis":{"values":[0,50,100,150,200],"labelOverlap":false,"tickCount":5,"title":"# Cells"}}}},
 {"transform":[{"filter":"datum.s=='c'"}],"mark":{"type":"line","color":"#8c8c8c","strokeWidth":1,"interpolate":"monotone"},"encoding":{"x":{"field":"x","type":"quantitative"},"y":{"field":"n","type":"quantitative"}}},
 {"data":{"name":"minor"},"mark":{"type":"point","shape":"M0,0L0,-1","size":14,"stroke":"#666","strokeWidth":0.8,"filled":false,"opacity":1},"encoding":{"x":{"field":"v","type":"quantitative"},"y":{"datum":0}}},
 {"data":{"name":"ann"},"transform":[{"filter":"datum.p==11"}],"mark":{"type":"rule","color":"#999","strokeWidth":1},"encoding":{"x":{"field":"gx","type":"quantitative"},"x2":{"datum":10000},"y":{"field":"gy","type":"quantitative"}}},
 {"data":{"name":"ann"},"transform":[{"filter":"datum.p==11"}],"mark":{"type":"point","shape":"M0,-1L0,1","size":36,"stroke":"#999","strokeWidth":1,"filled":false,"opacity":1},"encoding":{"x":{"field":"gx","type":"quantitative"},"y":{"field":"gy","type":"quantitative"}}},
 {"data":{"name":"ann"},"transform":[{"filter":"datum.p==11"}],"mark":{"type":"text","font":"Liberation Serif","fontSize":25,"color":"black"},"encoding":{"text":{"field":"mfi"},"x":{"datum":115},"y":{"datum":155}}},
 {"data":{"name":"ann"},"transform":[{"filter":"datum.p==11"}],"mark":{"type":"text","font":"Liberation Sans","fontSize":16,"color":"#333"},"encoding":{"text":{"field":"pct"},"x":{"datum":251},"y":{"datum":48}}}
]},
{"width":68,"height":20,"view":{"stroke":null},"data":{"values":[]},"mark":"point","encoding":{}},
{"width":194,"height":193,"data":{"name":"hist"},"transform":[{"filter":"datum.p==12"}],"layer":[
 {"transform":[{"filter":"datum.s=='s'"}],"mark":{"type":"area","color":"#c4c4c4","interpolate":"monotone","line":{"color":"#111","strokeWidth":1.8}},"encoding":{"x":{"field":"x","type":"quantitative","scale":{"type":"log","domain":[1,10000]},"axis":{"values":[1,10,100,1000],"labelExpr":"datum.value == 1 ? '10⁰' : datum.value == 10 ? '10¹' : datum.value == 100 ? '10²' : '10³'","title":"FL1-H:: FL1-Height"}},"y":{"field":"n","type":"quantitative","scale":{"domain":[0,200]},"axis":{"values":[0,50,100,150,200],"labelOverlap":false,"tickCount":5,"title":"# Cells"}}}},
 {"transform":[{"filter":"datum.s=='c'"}],"mark":{"type":"line","color":"#8c8c8c","strokeWidth":1,"interpolate":"monotone"},"encoding":{"x":{"field":"x","type":"quantitative"},"y":{"field":"n","type":"quantitative"}}},
 {"data":{"name":"minor"},"mark":{"type":"point","shape":"M0,0L0,-1","size":14,"stroke":"#666","strokeWidth":0.8,"filled":false,"opacity":1},"encoding":{"x":{"field":"v","type":"quantitative"},"y":{"datum":0}}},
 {"data":{"name":"ann"},"transform":[{"filter":"datum.p==12"}],"mark":{"type":"rule","color":"#999","strokeWidth":1},"encoding":{"x":{"field":"gx","type":"quantitative"},"x2":{"datum":10000},"y":{"field":"gy","type":"quantitative"}}},
 {"data":{"name":"ann"},"transform":[{"filter":"datum.p==12"}],"mark":{"type":"point","shape":"M0,-1L0,1","size":36,"stroke":"#999","strokeWidth":1,"filled":false,"opacity":1},"encoding":{"x":{"field":"gx","type":"quantitative"},"y":{"field":"gy","type":"quantitative"}}},
 {"data":{"name":"ann"},"transform":[{"filter":"datum.p==12"}],"mark":{"type":"text","font":"Liberation Serif","fontSize":25,"color":"black"},"encoding":{"text":{"field":"mfi"},"x":{"datum":110},"y":{"datum":171}}},
 {"data":{"name":"ann"},"transform":[{"filter":"datum.p==12"}],"mark":{"type":"text","font":"Liberation Sans","fontSize":16,"color":"#333"},"encoding":{"text":{"field":"pct"},"x":{"datum":195},"y":{"datum":48}}}
]},
{"width":23,"height":20,"view":{"stroke":null},"data":{"values":[]},"mark":"point","encoding":{}},
{"width":145,"height":193,"view":{"stroke":null},"data":{"values":[{}]},"mark":{"type":"text","text":"Radicicol","font":"Liberation Serif","fontWeight":"bold","fontSize":30,"align":"left","baseline":"alphabetic"},"encoding":{"x":{"datum":1200,"type":"quantitative","scale":{"domain":[1200,1345],"nice":false,"zero":false},"axis":null},"y":{"datum":785,"type":"quantitative","scale":{"domain":[866,673],"nice":false,"zero":false},"axis":null}}}
],
"config":{
 "font":"Liberation Sans",
 "view":{"stroke":"#222","strokeWidth":1},
 "axis":{"domain":false,"grid":false,"labelOverlap":false,"labelFont":"Liberation Sans","labelFontSize":8.5,"labelColor":"#555","tickColor":"#666","tickSize":3,"titleFont":"Liberation Sans","titleFontSize":8,"titleFontWeight":"normal","titleColor":"#444"},
 "axisX":{"labelPadding":2,"titlePadding":14},
 "axisY":{"labelPadding":3,"titlePadding":13}
}
}
